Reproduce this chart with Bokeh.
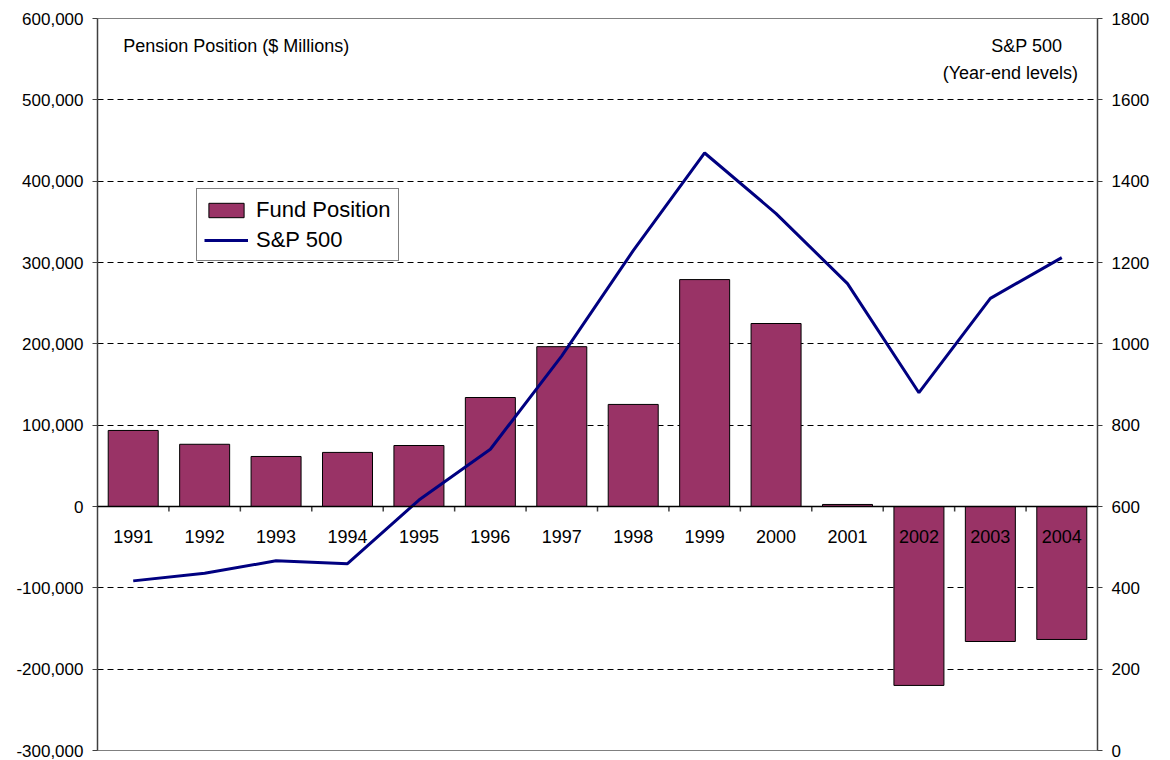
from bokeh.plotting import figure
from bokeh.models import (Range1d, LinearAxis, FixedTicker, NumeralTickFormatter,
                          Span, Label, Legend, LegendItem, ColumnDataSource)
from bokeh.core.properties import value
from bokeh.embed import file_html
from bokeh.resources import INLINE

years = ["1991", "1992", "1993", "1994", "1995", "1996", "1997", "1998", "1999",
         "2000", "2001", "2002", "2003", "2004"]
fund_position = [93500, 76500, 61500, 66500, 75000, 134000, 196500, 125500, 279000,
                 225000, 2500, -220000, -166000, -163500]
sp500 = [417.1, 435.7, 466.5, 459.3, 615.9, 740.7, 970.4, 1229.2, 1469.3,
         1320.3, 1148.1, 879.8, 1111.9, 1211.9]
left_ticks = [-300000, -200000, -100000, 0, 100000, 200000, 300000, 400000, 500000, 600000]
right_ticks = [0, 200, 400, 600, 800, 1000, 1200, 1400, 1600, 1800]

FONT = "Liberation Sans"
W, H = 1170, 760
BL, BR, BT, BB = 97, 73, 18, 10
frame_h = H - BT - BB

xs = list(range(1, len(years) + 1))
src = ColumnDataSource(dict(x=xs, year=years, fund=fund_position, sp=sp500,
                            zero=[0] * len(years)))

p = figure(width=W, height=H, output_backend="svg", toolbar_location=None,
           x_range=Range1d(0.5, len(years) + 0.5),
           y_range=Range1d(left_ticks[0], left_ticks[-1]),
           min_border_left=BL, min_border_right=BR, min_border_top=BT, min_border_bottom=BB)
p.extra_y_ranges = {"sp": Range1d(right_ticks[0], right_ticks[-1])}

p.xaxis.visible = False
p.xgrid.visible = False
p.ygrid.ticker = FixedTicker(ticks=left_ticks)
p.ygrid.grid_line_color = "black"
p.ygrid.grid_line_dash = "6 4"
p.ygrid.grid_line_width = 1
p.outline_line_color = "#808080"
p.background_fill_color = "white"
p.border_fill_color = "white"

ya = p.yaxis[0]
ya.ticker = FixedTicker(ticks=left_ticks)
ya.formatter = NumeralTickFormatter(format="0,0")

ra = LinearAxis(y_range_name="sp", ticker=FixedTicker(ticks=right_ticks))
p.add_layout(ra, "right")

for ax in (ya, ra):
    ax.axis_line_color = "#404040"
    ax.axis_line_width = 1.5
    ax.major_tick_line_color = "#404040"
    ax.major_tick_out = 5
    ax.major_tick_in = 0
    ax.minor_tick_line_color = None
    ax.major_label_text_font = FONT
    ax.major_label_text_font_size = "17px"
    ax.major_label_text_color = "black"
    ax.major_label_standoff = 9

bars = p.vbar(x="x", top="fund", bottom=0, width=0.7, source=src,
              fill_color="#993366", line_color="black", line_width=1)

p.add_layout(Span(location=0, dimension="width", line_color="black", line_width=1.5))

# category separator ticks hanging below the zero line (5 px long)
tick_len = (left_ticks[-1] - left_ticks[0]) / frame_h * 5
sep_x = [i + 0.5 for i in xs[:-1]]
p.segment(x0=sep_x, y0=[0] * len(sep_x), x1=sep_x, y1=[-tick_len] * len(sep_x),
          line_color="#404040", line_width=1.5)

p.text(x="x", y="zero", text="year", source=src, y_offset=30,
       text_align="center", text_baseline="middle",
       text_font=value(FONT), text_font_size="18px", text_color="black")

line = p.line(x="x", y="sp", source=src, y_range_name="sp",
              line_color="#000080", line_width=3)

p.add_layout(Label(x=0.86, y=565600, text="Pension Position ($ Millions)",
                   text_font=FONT, text_font_size="18px", text_baseline="middle",
                   text_align="left", text_color="black"))
p.add_layout(Label(x=13.51, y=565600, text="S&P 500",
                   text_font=FONT, text_font_size="18px", text_baseline="middle",
                   text_align="center", text_color="black"))
p.add_layout(Label(x=13.28, y=533600, text="(Year-end levels)",
                   text_font=FONT, text_font_size="18px", text_baseline="middle",
                   text_align="center", text_color="black"))

legend = Legend(items=[LegendItem(label="Fund Position", renderers=[bars]),
                       LegendItem(label="S&P 500", renderers=[line])],
                location=(99, 489), orientation="vertical",
                border_line_color="black", border_line_width=1,
                background_fill_color="white", background_fill_alpha=1,
                label_text_font=FONT, label_text_font_size="22px",
                label_text_color="black",
                glyph_width=44, glyph_height=18, label_height=27,
                padding=7, spacing=3, margin=0, label_standoff=8)
p.add_layout(legend, "center")

open("out.html", "w").write(file_html(p, INLINE))
